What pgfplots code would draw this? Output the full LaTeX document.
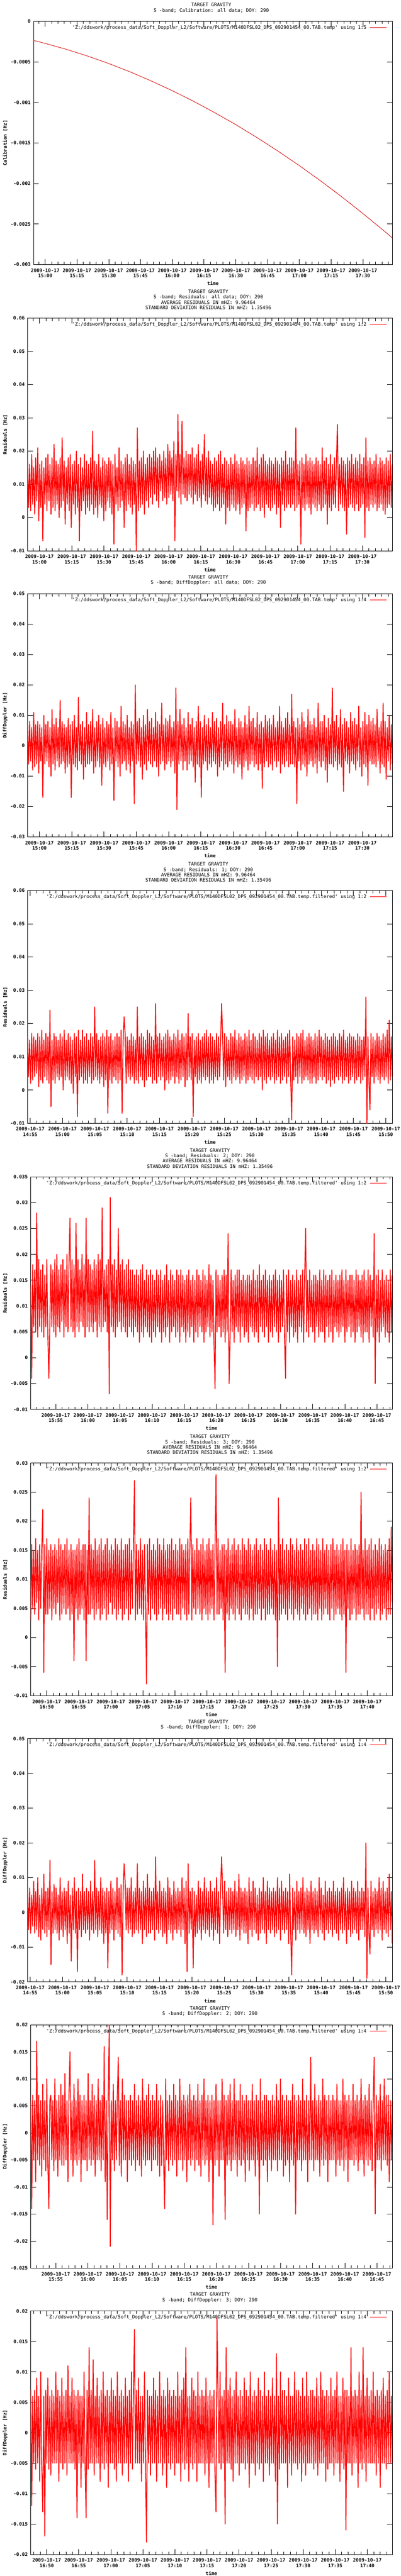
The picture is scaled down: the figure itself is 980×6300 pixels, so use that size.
\documentclass[border=0pt]{standalone}
\usepackage{fontspec}
\usepackage{pgfplots}
\usepackage{pgfplotstable}
\pgfplotsset{compat=1.18}
\newfontfamily\gpfont{DejaVu Sans Mono}
\newcommand\gpr{\gpfont\fontsize{11.6}{13}\selectfont}
\newcommand\gpb{\gpfont\bfseries\fontsize{11.6}{13}\selectfont}
\newcommand\D{2009-10-17\\}
\newcommand\fn{'Z:/ddswork/process\_data/Soft\_Doppler\_L2/Software/PLOTS/M140DFSL02\_DPS\_092901454\_00.TAB.temp}

% values in mHz, one sample per row, samples equally spaced in time
\pgfplotstableread[row sep=\\,header=false]{
17\\3\\16\\2\\19\\4\\15\\1\\18\\5\\21\\-1\\16\\3\\17\\-7\\15\\4\\18\\2\\
19\\5\\16\\1\\18\\3\\22\\2\\17\\4\\16\\0\\18\\3\\24\\5\\17\\-2\\15\\4\\
18\\2\\19\\-3\\16\\4\\17\\1\\20\\3\\16\\-7\\18\\2\\15\\5\\19\\1\\17\\3\\
16\\2\\18\\4\\26\\1\\17\\3\\16\\0\\19\\4\\15\\3\\18\\-1\\17\\2\\16\\5\\
18\\3\\17\\1\\16\\-8\\19\\4\\15\\2\\21\\3\\17\\5\\16\\-3\\18\\2\\19\\4\\
16\\3\\18\\1\\17\\4\\16\\-10\\27\\2\\17\\3\\18\\4\\20\\1\\16\\5\\18\\3\\
19\\6\\18\\4\\20\\7\\21\\5\\18\\3\\19\\8\\17\\5\\20\\6\\18\\4\\22\\6\\
20\\7\\18\\5\\23\\-7\\19\\8\\31\\6\\19\\4\\29\\7\\18\\6\\20\\5\\19\\7\\
19\\6\\21\\4\\18\\7\\19\\5\\22\\6\\17\\3\\19\\7\\25\\5\\18\\4\\20\\6\\
17\\4\\16\\2\\18\\3\\17\\4\\19\\2\\20\\3\\16\\4\\18\\-2\\17\\3\\16\\2\\
18\\4\\16\\3\\19\\2\\17\\4\\16\\1\\18\\3\\17\\4\\16\\-4\\18\\2\\17\\3\\
16\\4\\18\\2\\17\\3\\21\\4\\16\\2\\18\\3\\19\\0\\17\\4\\16\\3\\18\\2\\
17\\3\\16\\4\\18\\1\\17\\3\\16\\-3\\18\\4\\17\\2\\20\\3\\16\\4\\18\\3\\
18\\4\\17\\2\\27\\3\\16\\4\\17\\-8\\18\\3\\16\\2\\19\\4\\17\\3\\18\\1\\
17\\4\\16\\3\\18\\2\\17\\4\\16\\2\\21\\3\\17\\4\\18\\-2\\16\\3\\19\\2\\
16\\4\\18\\3\\17\\28\\2\\16\\4\\18\\3\\17\\2\\16\\-5\\18\\3\\17\\4\\19\\
3\\16\\2\\18\\4\\17\\2\\19\\3\\16\\4\\18\\-6\\24\\3\\17\\2\\18\\4\\16\\
3\\17\\4\\19\\2\\16\\3\\18\\4\\17\\2\\16\\1\\18\\3\\17\\4\\19\\3\\16\\
}\tB
\pgfplotstableread[row sep=\\,header=false]{
7\\-6\\8\\-5\\6\\-8\\11\\-7\\7\\-6\\8\\-9\\7\\-5\\6\\-17\\10\\-6\\7\\-5\\
8\\-7\\6\\-10\\12\\-6\\7\\-8\\9\\-5\\6\\-7\\15\\-6\\8\\-5\\7\\-9\\6\\-7\\
9\\-6\\7\\-17\\8\\-6\\10\\-7\\6\\-8\\16\\-5\\7\\-6\\8\\-11\\6\\-7\\11\\-6\\
7\\-6\\8\\-5\\12\\-9\\6\\-7\\8\\-5\\10\\-7\\7\\-13\\9\\-6\\6\\-7\\8\\-5\\
7\\-8\\11\\-6\\6\\-18\\9\\-5\\8\\-7\\6\\-10\\13\\-6\\8\\-5\\7\\-8\\10\\-6\\
6\\-9\\8\\-5\\7\\-19\\20\\-6\\8\\-5\\9\\-7\\6\\-11\\10\\-6\\7\\-8\\12\\-5\\
8\\-6\\9\\-7\\6\\-5\\11\\-7\\8\\-10\\7\\-6\\14\\-5\\7\\-8\\9\\-6\\8\\-5\\
10\\-7\\6\\-5\\8\\-9\\19\\-21\\8\\-6\\12\\-5\\7\\-8\\9\\-5\\6\\-8\\11\\-6\\
7\\-5\\9\\-7\\6\\-12\\8\\-6\\13\\-7\\8\\-17\\6\\-6\\10\\-5\\7\\-8\\9\\-6\\
6\\-7\\11\\-5\\8\\-6\\9\\-10\\6\\-7\\8\\-5\\14\\-8\\7\\-6\\10\\-7\\8\\-5\\
8\\-6\\7\\-9\\12\\-5\\6\\-7\\9\\-6\\8\\-11\\6\\-7\\10\\-5\\7\\-8\\13\\-6\\
8\\-5\\9\\-7\\6\\-6\\11\\-8\\7\\-6\\8\\-14\\6\\-7\\10\\-5\\8\\-7\\9\\-6\\
7\\-8\\10\\-5\\6\\-7\\8\\-5\\13\\-9\\8\\-6\\6\\-7\\9\\-5\\11\\-7\\7\\-6\\
17\\-6\\8\\-7\\6\\-19\\9\\-5\\7\\-8\\11\\-6\\8\\-7\\6\\-10\\12\\-6\\8\\-5\\
7\\-7\\9\\-6\\6\\-9\\14\\-5\\8\\-7\\8\\-5\\10\\-8\\6\\-12\\9\\-6\\7\\-6\\
19\\-7\\8\\-5\\10\\-8\\6\\-6\\12\\-7\\7\\-15\\9\\-5\\8\\-6\\6\\-9\\11\\-5\\
8\\-6\\9\\-8\\7\\-5\\13\\-7\\6\\-10\\8\\-6\\11\\-7\\7\\-13\\10\\-5\\8\\-6\\
9\\-6\\7\\-7\\12\\-5\\6\\-9\\8\\-6\\14\\-7\\8\\-11\\6\\-5\\10\\-8\\7\\-6\\
}\tC
\pgfplotstableread[row sep=\\,header=false]{
16\\4\\15\\2\\17\\3\\16\\4\\15\\5\\17\\1\\16\\3\\18\\2\\15\\4\\17\\3\\
16\\2\\24\\-5\\15\\3\\17\\2\\16\\4\\15\\3\\17\\4\\16\\0\\18\\3\\15\\4\\
17\\3\\16\\2\\15\\-1\\17\\4\\16\\-8\\18\\3\\15\\4\\18\\2\\16\\3\\17\\2\\
15\\4\\17\\2\\16\\3\\25\\4\\17\\3\\15\\2\\16\\4\\17\\1\\16\\3\\18\\-7\\
16\\3\\17\\2\\15\\4\\16\\3\\17\\2\\16\\3\\18\\-7\\15\\22\\17\\2\\16\\4\\
15\\3\\17\\4\\16\\2\\15\\3\\25\\2\\16\\4\\17\\3\\16\\1\\15\\3\\18\\4\\
17\\4\\16\\2\\15\\3\\26\\2\\16\\4\\17\\3\\15\\4\\16\\0\\17\\3\\18\\2\\
16\\3\\15\\4\\17\\2\\16\\4\\18\\2\\15\\3\\17\\4\\16\\1\\17\\3\\23\\4\\
16\\3\\17\\-8\\15\\4\\16\\2\\17\\3\\15\\2\\16\\4\\17\\3\\18\\4\\16\\2\\
17\\3\\16\\2\\15\\4\\17\\3\\16\\4\\15\\26\\16\\3\\17\\1\\16\\4\\15\\3\\
17\\2\\16\\4\\18\\3\\15\\4\\17\\2\\16\\3\\15\\4\\17\\2\\16\\3\\18\\4\\
15\\3\\17\\2\\16\\4\\15\\3\\17\\4\\16\\0\\18\\3\\16\\2\\17\\4\\15\\3\\
16\\4\\17\\2\\15\\3\\18\\4\\16\\2\\17\\3\\15\\4\\16\\2\\17\\4\\18\\3\\
-9\\16\\3\\15\\4\\17\\2\\16\\4\\17\\2\\18\\3\\15\\4\\16\\3\\17\\2\\16\\
2\\15\\4\\17\\2\\16\\3\\18\\4\\16\\3\\15\\4\\17\\2\\16\\3\\15\\1\\16\\
3\\17\\2\\16\\4\\15\\3\\17\\4\\16\\2\\18\\3\\15\\4\\16\\2\\17\\3\\16\\
4\\16\\2\\15\\3\\17\\4\\16\\2\\15\\3\\16\\4\\28\\-10\\16\\3\\-6\\17\\4\\
16\\2\\15\\4\\17\\3\\16\\2\\15\\4\\17\\3\\16\\4\\18\\2\\21\\3\\16\\4\\
}\tD
\pgfplotstableread[row sep=\\,header=false]{
14\\-4\\18\\6\\17\\5\\28\\4\\19\\6\\17\\5\\18\\4\\16\\6\\19\\5\\-4\\6\\
18\\6\\17\\5\\19\\4\\20\\6\\17\\5\\18\\7\\19\\4\\17\\6\\20\\5\\18\\27\\
6\\19\\5\\18\\4\\26\\6\\19\\5\\17\\7\\20\\6\\18\\4\\27\\6\\19\\5\\18\\
6\\17\\5\\19\\7\\18\\4\\20\\6\\19\\5\\29\\6\\17\\7\\18\\5\\19\\-7\\31\\
6\\18\\5\\19\\4\\17\\6\\25\\7\\18\\5\\19\\6\\17\\5\\18\\4\\19\\6\\17\\
5\\17\\4\\16\\6\\17\\5\\16\\3\\17\\5\\18\\4\\15\\6\\17\\5\\16\\4\\17\\
3\\16\\5\\15\\4\\17\\6\\16\\5\\17\\3\\15\\5\\16\\4\\18\\6\\15\\3\\17\\
5\\16\\6\\15\\4\\17\\5\\16\\3\\17\\6\\16\\5\\15\\3\\16\\5\\17\\4\\15\\
6\\16\\3\\15\\5\\17\\4\\16\\6\\15\\5\\17\\3\\16\\5\\15\\6\\18\\4\\16\\
5\\15\\3\\-6\\17\\5\\16\\6\\15\\4\\16\\5\\17\\3\\16\\5\\24\\-5\\4\\17\\
5\\15\\3\\16\\6\\17\\5\\17\\3\\15\\6\\16\\4\\15\\5\\16\\3\\16\\6\\15\\
5\\17\\4\\15\\5\\16\\3\\18\\6\\15\\5\\16\\4\\17\\6\\15\\3\\16\\5\\15\\
4\\16\\6\\17\\5\\15\\3\\16\\5\\15\\6\\17\\4\\-4\\16\\5\\17\\3\\15\\6\\
16\\4\\15\\5\\17\\3\\15\\6\\16\\5\\17\\3\\16\\25\\5\\15\\4\\17\\6\\15\\
5\\16\\3\\16\\6\\15\\4\\17\\5\\15\\5\\17\\3\\16\\6\\15\\4\\16\\5\\17\\
3\\15\\6\\16\\5\\15\\4\\16\\5\\17\\6\\15\\3\\17\\5\\15\\6\\16\\4\\16\\
5\\15\\3\\17\\5\\16\\6\\15\\4\\16\\3\\17\\5\\15\\5\\17\\3\\16\\6\\15\\
4\\24\\-5\\16\\5\\17\\3\\15\\5\\17\\6\\15\\4\\16\\5\\15\\3\\17\\5\\16\\
}\tE
\pgfplotstableread[row sep=\\,header=false]{
3\\16\\5\\15\\4\\17\\6\\15\\3\\16\\5\\15\\22\\-6\\16\\4\\17\\4\\15\\5\\
16\\3\\15\\5\\16\\4\\15\\6\\17\\3\\16\\4\\15\\5\\16\\4\\17\\5\\15\\3\\
16\\4\\15\\-4\\15\\5\\16\\3\\17\\4\\15\\5\\16\\3\\16\\-4\\15\\4\\24\\4\\
16\\5\\15\\3\\17\\4\\15\\5\\16\\3\\17\\4\\15\\5\\16\\3\\17\\4\\15\\6\\
16\\4\\15\\5\\17\\3\\16\\4\\15\\5\\17\\3\\15\\4\\16\\5\\16\\3\\17\\4\\
15\\5\\16\\27\\3\\16\\4\\15\\5\\17\\4\\15\\3\\16\\5\\-8\\16\\4\\17\\3\\
15\\5\\16\\4\\15\\3\\17\\4\\16\\5\\15\\3\\17\\5\\15\\4\\16\\3\\16\\4\\
17\\3\\15\\5\\16\\4\\15\\4\\17\\3\\16\\5\\15\\4\\16\\3\\17\\4\\15\\24\\
3\\16\\5\\15\\4\\17\\5\\15\\4\\16\\3\\17\\5\\15\\4\\16\\3\\17\\4\\15\\
5\\16\\3\\15\\28\\4\\17\\4\\15\\5\\16\\3\\16\\-6\\15\\4\\17\\3\\15\\5\\
16\\4\\17\\3\\15\\5\\16\\4\\15\\3\\17\\5\\16\\4\\15\\4\\17\\3\\16\\5\\
15\\3\\16\\4\\17\\4\\15\\5\\16\\3\\15\\5\\17\\3\\16\\4\\15\\4\\17\\5\\
15\\4\\16\\3\\15\\-5\\24\\3\\16\\4\\17\\5\\15\\4\\16\\3\\15\\5\\17\\4\\
16\\3\\15\\5\\17\\4\\15\\3\\16\\5\\15\\4\\17\\3\\16\\4\\17\\5\\15\\3\\
16\\4\\15\\4\\17\\3\\16\\5\\15\\3\\17\\4\\15\\5\\16\\4\\15\\3\\16\\5\\
17\\3\\15\\4\\16\\5\\15\\4\\16\\3\\17\\4\\15\\-6\\16\\5\\15\\3\\17\\4\\
15\\5\\16\\3\\15\\4\\16\\4\\25\\5\\15\\3\\17\\4\\15\\4\\16\\3\\17\\5\\
15\\3\\16\\4\\15\\5\\17\\3\\16\\4\\15\\5\\16\\3\\15\\4\\17\\4\\19\\6\\
}\tF
\pgfplotstableread[row sep=\\,header=false]{
6\\-5\\7\\-6\\5\\-4\\9\\-6\\6\\-5\\10\\-7\\5\\-8\\7\\-5\\11\\-6\\6\\-7\\
7\\-5\\15\\-15\\6\\-6\\8\\-5\\7\\-6\\5\\-8\\10\\-5\\6\\-7\\7\\-5\\6\\-9\\
9\\-6\\5\\-14\\7\\-5\\10\\-6\\6\\-17\\7\\-5\\6\\-7\\11\\-5\\6\\-6\\7\\-5\\
6\\-8\\9\\-5\\6\\-6\\15\\-5\\7\\-7\\6\\-5\\10\\-6\\7\\-9\\6\\-6\\7\\-16\\
6\\-6\\9\\-5\\7\\-8\\6\\-5\\10\\-6\\7\\-7\\8\\-18\\6\\14\\9\\-5\\7\\-6\\
7\\-5\\10\\-7\\6\\-6\\7\\-5\\14\\-6\\7\\-5\\6\\-9\\9\\-5\\7\\-7\\11\\-6\\
7\\-6\\6\\-5\\7\\-8\\16\\-5\\6\\-6\\9\\-5\\6\\-7\\7\\-6\\6\\-9\\10\\-5\\
7\\-6\\5\\-8\\9\\-5\\6\\-6\\7\\-5\\6\\-7\\10\\-5\\7\\-9\\9\\-17\\14\\-6\\
6\\-5\\7\\-16\\6\\-7\\5\\-6\\9\\-5\\7\\-8\\6\\-5\\10\\-6\\7\\-5\\6\\-7\\
9\\-5\\6\\-8\\7\\-5\\10\\-6\\6\\-9\\7\\16\\6\\-6\\9\\-5\\6\\-7\\7\\-5\\
7\\-6\\6\\-5\\9\\-7\\6\\-5\\11\\-8\\7\\-5\\6\\-6\\7\\-6\\6\\-9\\10\\-5\\
6\\-7\\9\\-5\\7\\-6\\5\\-8\\7\\-6\\6\\-5\\10\\-6\\6\\-9\\9\\-5\\7\\-6\\
6\\-5\\7\\-7\\6\\-6\\10\\-5\\7\\-8\\9\\-5\\6\\-6\\7\\-5\\6\\-9\\11\\-6\\
-18\\7\\-5\\6\\-8\\9\\-5\\6\\-6\\7\\-5\\10\\-6\\6\\-7\\7\\-5\\6\\-9\\9\\
-5\\6\\-6\\7\\-5\\6\\-7\\10\\-5\\7\\-6\\5\\-8\\9\\-5\\6\\-6\\7\\-5\\6\\
-7\\9\\-5\\6\\-6\\7\\-8\\6\\-5\\7\\-6\\10\\-5\\6\\-9\\7\\-5\\6\\-7\\9\\
-6\\7\\-5\\6\\-6\\9\\-8\\6\\-5\\7\\-5\\6\\-7\\20\\-19\\7\\-6\\-12\\9\\-5\\
6\\-7\\7\\-5\\6\\-6\\10\\-5\\7\\-8\\9\\-5\\6\\-6\\7\\-7\\11\\-5\\6\\-9\\
}\tG
\pgfplotstableread[row sep=\\,header=false]{
6\\-14\\7\\-5\\6\\-9\\17\\-5\\7\\-6\\6\\-8\\9\\-5\\6\\-7\\10\\-5\\-14\\6\\
7\\-5\\6\\-7\\10\\-5\\6\\-8\\7\\-5\\9\\-6\\7\\-6\\11\\-5\\6\\-9\\7\\15\\
-5\\6\\-8\\9\\-5\\6\\-6\\10\\-5\\7\\-9\\6\\-5\\7\\-5\\6\\-7\\11\\-5\\6\\
-6\\9\\-5\\7\\-8\\6\\-5\\10\\-5\\6\\-7\\7\\-5\\16\\-9\\6\\-16\\7\\20\\-21\\
6\\-5\\9\\-7\\6\\-5\\7\\14\\-6\\6\\-8\\10\\-5\\7\\-5\\6\\-9\\6\\-5\\7\\
-6\\6\\-5\\9\\-7\\6\\-5\\7\\-6\\6\\-8\\10\\-5\\6\\-6\\7\\-5\\9\\-5\\6\\
-7\\7\\-5\\6\\-5\\9\\-6\\6\\-8\\7\\-6\\6\\-5\\-14\\10\\-5\\6\\-7\\7\\-5\\
6\\-6\\9\\-5\\7\\-8\\6\\-5\\10\\-5\\6\\-7\\7\\-5\\6\\-9\\7\\-5\\9\\-6\\
6\\-5\\7\\-7\\6\\-5\\9\\-6\\6\\-8\\7\\-5\\10\\-6\\6\\-5\\7\\-9\\6\\-5\\
7\\-17\\6\\-6\\9\\-5\\6\\-8\\6\\-5\\10\\-5\\7\\-16\\6\\-6\\7\\-5\\9\\-7\\
6\\-5\\10\\-5\\6\\-8\\6\\-5\\9\\-6\\7\\-5\\6\\-9\\7\\-5\\6\\-7\\6\\-5\\
9\\-5\\6\\-8\\7\\-5\\6\\-15\\10\\-5\\6\\-6\\7\\-5\\7\\-9\\6\\-5\\6\\-7\\
7\\-5\\6\\-5\\9\\-7\\6\\-5\\10\\-5\\7\\-8\\6\\-6\\7\\-5\\6\\-9\\6\\-5\\
9\\-6\\7\\-15\\6\\-5\\7\\-5\\6\\-7\\10\\-5\\6\\-5\\7\\-9\\6\\-5\\14\\-5\\
6\\-7\\9\\-5\\6\\-5\\7\\-8\\6\\-5\\10\\-6\\7\\-5\\6\\-9\\7\\-5\\6\\-5\\
7\\-5\\6\\-8\\9\\-5\\6\\-6\\6\\-5\\10\\-7\\7\\-5\\6\\-9\\7\\-5\\6\\-5\\
9\\-6\\6\\-5\\7\\-7\\6\\-5\\10\\-5\\6\\-8\\7\\-5\\6\\-6\\9\\-5\\6\\-7\\
6\\14\\-15\\7\\-5\\6\\-5\\9\\-7\\6\\-5\\10\\-5\\7\\-6\\7\\-9\\6\\-5\\6\\
}\tH
\pgfplotstableread[row sep=\\,header=false]{
7\\-12\\6\\-5\\7\\-6\\9\\-5\\6\\-8\\10\\-5\\-13\\6\\-17\\7\\-5\\9\\-6\\6\\
-7\\7\\-5\\6\\-5\\10\\-5\\7\\-8\\6\\-5\\9\\-6\\6\\-5\\7\\-7\\11\\-5\\6\\
-5\\9\\-5\\7\\-6\\6\\-14\\7\\-5\\6\\-9\\6\\-5\\10\\-5\\-14\\7\\-6\\14\\-5\\
7\\-5\\12\\-7\\6\\-5\\9\\-5\\6\\-8\\7\\-5\\10\\-6\\6\\-5\\7\\-9\\6\\-5\\
9\\-5\\7\\-6\\6\\-8\\10\\-5\\6\\-5\\7\\-7\\6\\-5\\9\\-5\\6\\-8\\7\\-5\\
10\\-6\\6\\17\\-5\\7\\-5\\9\\-5\\6\\-8\\6\\-5\\10\\-6\\-18\\7\\-5\\6\\-7\\
6\\-5\\9\\-5\\7\\-8\\6\\-5\\10\\-5\\6\\-7\\7\\-5\\6\\-9\\9\\-5\\7\\-6\\
6\\-5\\7\\-7\\6\\-5\\10\\-5\\6\\-8\\7\\-5\\9\\-6\\14\\-5\\6\\-8\\6\\-5\\
9\\-6\\7\\-5\\6\\-8\\10\\-5\\6\\-5\\7\\-5\\6\\-7\\9\\-5\\6\\-9\\7\\-5\\
6\\-5\\7\\-7\\-13\\19\\6\\-5\\10\\-6\\6\\-5\\7\\-15\\14\\-5\\7\\-5\\9\\-6\\
6\\-8\\7\\-5\\10\\-5\\6\\-7\\7\\-5\\6\\-5\\9\\-6\\7\\-5\\6\\-9\\10\\-5\\
6\\-5\\7\\-7\\6\\-5\\9\\-6\\7\\-5\\6\\-8\\10\\-5\\6\\-5\\7\\-7\\6\\-5\\
9\\-5\\6\\-8\\13\\-15\\6\\-6\\10\\-5\\7\\-5\\7\\-5\\6\\-9\\9\\-5\\6\\-7\\
6\\-5\\10\\-5\\7\\-6\\7\\-5\\6\\-8\\9\\-5\\6\\-7\\10\\-5\\6\\-5\\7\\-5\\
7\\-6\\6\\-5\\9\\-7\\6\\-5\\10\\-5\\7\\-5\\6\\-8\\7\\-6\\6\\-5\\9\\-5\\
6\\-7\\7\\-5\\10\\-5\\6\\-8\\6\\-5\\9\\-6\\7\\-16\\7\\-5\\6\\-5\\14\\-7\\
6\\-5\\7\\-5\\6\\-9\\10\\-5\\7\\-6\\14\\-5\\6\\-8\\9\\-5\\6\\-5\\7\\-5\\
10\\-5\\6\\-7\\7\\-5\\6\\-9\\7\\-5\\9\\-5\\6\\-6\\7\\-5\\10\\-5\\6\\-5\\
}\tI
\pgfplotstablegetrowsof{\tB}\edef\nB{\pgfplotsretval}
\pgfplotstablegetrowsof{\tC}\edef\nC{\pgfplotsretval}
\pgfplotstablegetrowsof{\tD}\edef\nD{\pgfplotsretval}
\pgfplotstablegetrowsof{\tE}\edef\nE{\pgfplotsretval}
\pgfplotstablegetrowsof{\tF}\edef\nF{\pgfplotsretval}
\pgfplotstablegetrowsof{\tG}\edef\nG{\pgfplotsretval}
\pgfplotstablegetrowsof{\tH}\edef\nH{\pgfplotsretval}
\pgfplotstablegetrowsof{\tI}\edef\nI{\pgfplotsretval}

\pgfplotsset{
  gp/.style={
    scale only axis, anchor=south west, clip=true,
    axis line style={line width=1.1pt},
    tick style={black,line width=1pt},
    tick align=inside, major tick length=13pt, minor tick length=6.5pt,
    scaled ticks=false,
    ticklabel style={font=\gpb},
    yticklabel style={inner sep=0pt, xshift=-7pt},
    xticklabel style={align=center, inner sep=0pt, yshift=-9.75pt},
    xlabel={time},
    xlabel style={font=\gpb, at={(axis description cs:0.5,0)}, anchor=center, yshift=-46pt},
    title style={font=\gpr, align=center, anchor=south, at={(axis description cs:0.5,1)}, inner sep=0pt, yshift=15pt, xshift=-4pt},
    legend style={draw=none, fill=none, at={(1,1)}, anchor=north east, xshift=-13pt, yshift=-9.7pt, inner sep=0pt, font=\gpr, nodes={inner sep=0pt}, column sep=8pt},
    legend plot pos=right,
    legend image code/.code={\draw[#1, line width=1pt] (0pt,0pt) -- (41pt,0pt);},
  },
  ylab/.style={every axis y label/.style={at={(axis description cs:#1,0.5)}, rotate=90, anchor=center, font=\gpb}},
  xA/.style={xmin=-5.5, xmax=163.9, xtick={0,15,...,150}, minor xtick={-3,0,...,162},
    xticklabels={{\D 15:00},{\D 15:15},{\D 15:30},{\D 15:45},{\D 16:00},{\D 16:15},{\D 16:30},{\D 16:45},{\D 17:00},{\D 17:15},{\D 17:30}}},
  xB/.style={xmin=-5.4, xmax=51.0, xtick={-5,0,...,50}, minor xtick={-5,-4,...,51},
    xticklabels={{\D 14:55},{\D 15:00},{\D 15:05},{\D 15:10},{\D 15:15},{\D 15:20},{\D 15:25},{\D 15:30},{\D 15:35},{\D 15:40},{\D 15:45},{\D 15:50}}},
  xC/.style={xmin=51.1, xmax=107.4, xtick={55,60,...,105}, minor xtick={52,53,...,107},
    xticklabels={{\D 15:55},{\D 16:00},{\D 16:05},{\D 16:10},{\D 16:15},{\D 16:20},{\D 16:25},{\D 16:30},{\D 16:35},{\D 16:40},{\D 16:45}}},
  xD/.style={xmin=107.5, xmax=163.9, xtick={110,115,...,160}, minor xtick={108,109,...,163},
    xticklabels={{\D 16:50},{\D 16:55},{\D 17:00},{\D 17:05},{\D 17:10},{\D 17:15},{\D 17:20},{\D 17:25},{\D 17:30},{\D 17:35},{\D 17:40}}},
  yRes/.style={ymin=-10, ymax=60, ytick={-10,0,...,60}, yticklabels={-0.01,0,0.01,0.02,0.03,0.04,0.05,0.06}},
  noise/.style={red, line width=2.1pt, line join=round},
}

\begin{document}
\begin{tikzpicture}
\useasboundingbox (0pt,0pt) rectangle (980pt,-6300pt);

% 1 Calibration
\begin{axis}[gp, xA, at={(82pt,-647pt)}, width=877pt, height=595pt,
  ymin=-0.003, ymax=0,
  ytick={-0.003,-0.0025,-0.002,-0.0015,-0.001,-0.0005,0},
  yticklabels={-0.003,-0.0025,-0.002,-0.0015,-0.001,-0.0005,0},
  ylabel={Calibration [Hz]}, ylab=-0.0792,
  title={TARGET GRAVITY\\S -band; Calibration: all data; DOY: 290}]
\addplot[red!85!black, line width=1.1pt] coordinates {
(-5.5,-0.000236) (0,-0.000273) (10,-0.000346) (20,-0.000429) (30,-0.000521)
(40,-0.000623) (50,-0.000735) (60,-0.000856) (70,-0.000986) (80,-0.001126)
(90,-0.001275) (100,-0.001434) (110,-0.001602) (120,-0.001780) (130,-0.001967)
(140,-0.002164) (150,-0.002370) (160,-0.002585) (163.9,-0.002670)};
\addlegendentry{\fn' using 1:5}
\end{axis}

% 2 Residuals all data
\begin{axis}[gp, xA, yRes, at={(67.5pt,-1347pt)}, width=891.5pt, height=569pt,
  ylabel={Residuals [Hz]}, ylab=-0.0617,
  title={TARGET GRAVITY\\S -band; Residuals: all data; DOY: 290\\AVERAGE RESIDUALS IN mHZ: 9.96464\\STANDARD DEVIATION RESIDUALS IN mHZ: 1.35496}]
\addplot[noise] table[x expr={-5.5+\coordindex*169.4/(\nB-1)}, y index=0] {\tB};
\addlegendentry{\fn' using 1:2}
\end{axis}

% 3 DiffDoppler all data
\begin{axis}[gp, xA, at={(67.5pt,-2047pt)}, width=891.5pt, height=595pt,
  ymin=-30, ymax=50, ytick={-30,-20,...,50},
  yticklabels={-0.03,-0.02,-0.01,0,0.01,0.02,0.03,0.04,0.05},
  ylabel={DiffDoppler [Hz]}, ylab=-0.0617,
  title={TARGET GRAVITY\\S -band; DiffDoppler: all data; DOY: 290}]
\addplot[noise] table[x expr={-5.5+\coordindex*169.4/(\nC-1)}, y index=0] {\tC};
\addlegendentry{\fn' using 1:4}
\end{axis}

% 4 Residuals 1
\begin{axis}[gp, xB, yRes, at={(67.5pt,-2747pt)}, width=891.5pt, height=569pt,
  ylabel={Residuals [Hz]}, ylab=-0.0617,
  title={TARGET GRAVITY\\S -band; Residuals: 1; DOY: 290\\AVERAGE RESIDUALS IN mHZ: 9.96464\\STANDARD DEVIATION RESIDUALS IN mHZ: 1.35496}]
\addplot[noise] table[x expr={-5.4+\coordindex*56.4/(\nD-1)}, y index=0] {\tD};
\addlegendentry{\fn.filtered' using 1:2}
\end{axis}

% 5 Residuals 2
\begin{axis}[gp, xC, at={(75pt,-3447pt)}, width=884pt, height=569pt,
  ymin=-10, ymax=35, ytick={-10,-5,...,35},
  yticklabels={-0.01,-0.005,0,0.005,0.01,0.015,0.02,0.025,0.03,0.035},
  ylabel={Residuals [Hz]}, ylab=-0.0707,
  title={TARGET GRAVITY\\S -band; Residuals: 2; DOY: 290\\AVERAGE RESIDUALS IN mHZ: 9.96464\\STANDARD DEVIATION RESIDUALS IN mHZ: 1.35496}]
\addplot[noise] table[x expr={51.1+\coordindex*56.3/(\nE-1)}, y index=0] {\tE};
\addlegendentry{\fn.filtered' using 1:2}
\end{axis}

% 6 Residuals 3
\begin{axis}[gp, xD, at={(75pt,-4147pt)}, width=884pt, height=569pt,
  ymin=-10, ymax=30, ytick={-10,-5,...,30},
  yticklabels={-0.01,-0.005,0,0.005,0.01,0.015,0.02,0.025,0.03},
  ylabel={Residuals [Hz]}, ylab=-0.0707,
  title={TARGET GRAVITY\\S -band; Residuals: 3; DOY: 290\\AVERAGE RESIDUALS IN mHZ: 9.96464\\STANDARD DEVIATION RESIDUALS IN mHZ: 1.35496}]
\addplot[noise] table[x expr={107.5+\coordindex*56.4/(\nF-1)}, y index=0] {\tF};
\addlegendentry{\fn.filtered' using 1:2}
\end{axis}

% 7 DiffDoppler 1
\begin{axis}[gp, xB, at={(67.5pt,-4847pt)}, width=891.5pt, height=595pt,
  ymin=-20, ymax=50, ytick={-20,-10,...,50},
  yticklabels={-0.02,-0.01,0,0.01,0.02,0.03,0.04,0.05},
  ylabel={DiffDoppler [Hz]}, ylab=-0.0617,
  title={TARGET GRAVITY\\S -band; DiffDoppler: 1; DOY: 290}]
\addplot[noise] table[x expr={-5.4+\coordindex*56.4/(\nG-1)}, y index=0] {\tG};
\addlegendentry{\fn.filtered' using 1:4}
\end{axis}

% 8 DiffDoppler 2
\begin{axis}[gp, xC, at={(75pt,-5547pt)}, width=884pt, height=595pt,
  ymin=-25, ymax=20, ytick={-25,-20,...,20},
  yticklabels={-0.025,-0.02,-0.015,-0.01,-0.005,0,0.005,0.01,0.015,0.02},
  ylabel={DiffDoppler [Hz]}, ylab=-0.0707,
  title={TARGET GRAVITY\\S -band; DiffDoppler: 2; DOY: 290}]
\addplot[noise] table[x expr={51.1+\coordindex*56.3/(\nH-1)}, y index=0] {\tH};
\addlegendentry{\fn.filtered' using 1:4}
\end{axis}

% 9 DiffDoppler 3
\begin{axis}[gp, xD, at={(75pt,-6247pt)}, width=884pt, height=595pt,
  ymin=-20, ymax=20, ytick={-20,-15,...,20},
  yticklabels={-0.02,-0.015,-0.01,-0.005,0,0.005,0.01,0.015,0.02},
  ylabel={DiffDoppler [Hz]}, ylab=-0.0707,
  title={TARGET GRAVITY\\S -band; DiffDoppler: 3; DOY: 290}]
\addplot[noise] table[x expr={107.5+\coordindex*56.4/(\nI-1)}, y index=0] {\tI};
\addlegendentry{\fn.filtered' using 1:4}
\end{axis}
\end{tikzpicture}
\end{document}
